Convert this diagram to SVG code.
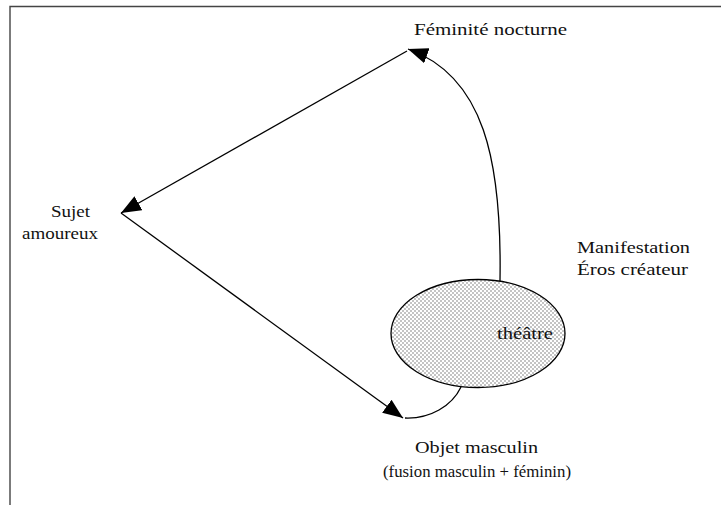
<svg xmlns="http://www.w3.org/2000/svg" width="721" height="505" viewBox="0 0 721 505">
  <style>
    text { font-family: "Liberation Serif", "Times New Roman", serif; font-size: 17.5px; fill: #111; }
    .edge { fill: none; stroke: #000; stroke-width: 1.3; }
    .frame { fill: none; stroke: #444; stroke-width: 1.4; }
  </style>
  <defs>
    <pattern id="check" width="4" height="4" patternUnits="userSpaceOnUse">
      <rect width="4" height="4" fill="#ffffff"/>
      <rect width="2" height="2" fill="#c4c4c4"/>
      <rect x="2" y="2" width="2" height="2" fill="#c4c4c4"/>
    </pattern>
    <marker id="arrow" viewBox="0 0 20 16" refX="20" refY="8" markerWidth="20" markerHeight="16" markerUnits="userSpaceOnUse" orient="auto">
      <path d="M0,0 L20,8 L0,16 z" fill="#000"/>
    </marker>
  </defs>

  <polyline class="frame" points="10,505 10,6.5 721,6.5"/>

  <g id="connectors">
    <line class="edge" x1="407" y1="51" x2="121" y2="213" marker-end="url(#arrow)"/>
    <line class="edge" x1="121" y1="213" x2="403" y2="418" marker-end="url(#arrow)"/>
    <path class="edge" d="M500,281 C502,160 484,76 408,49" marker-end="url(#arrow)"/>
    <path class="edge" d="M405,418 C430,419 452,406 461,387"/>
  </g>

  <g id="theatre">
    <ellipse cx="478" cy="333.5" rx="87" ry="54" fill="url(#check)" stroke="#000" stroke-width="1.3"/>
    <text x="497" y="339" textLength="56" lengthAdjust="spacingAndGlyphs">théâtre</text>
  </g>

  <g id="feminite">
    <text x="414" y="35" textLength="153" lengthAdjust="spacingAndGlyphs">Féminité nocturne</text>
  </g>

  <g id="sujet">
    <text x="51" y="217" textLength="39" lengthAdjust="spacingAndGlyphs">Sujet</text>
    <text x="22" y="239" textLength="76" lengthAdjust="spacingAndGlyphs">amoureux</text>
  </g>

  <g id="manifestation">
    <text x="577" y="253" textLength="113" lengthAdjust="spacingAndGlyphs">Manifestation</text>
    <text x="577" y="275" textLength="111" lengthAdjust="spacingAndGlyphs">Éros créateur</text>
  </g>

  <g id="objet">
    <text x="415" y="453" textLength="123" lengthAdjust="spacingAndGlyphs">Objet masculin</text>
    <text x="383" y="477" textLength="188" lengthAdjust="spacingAndGlyphs">(fusion masculin + féminin)</text>
  </g>
</svg>
